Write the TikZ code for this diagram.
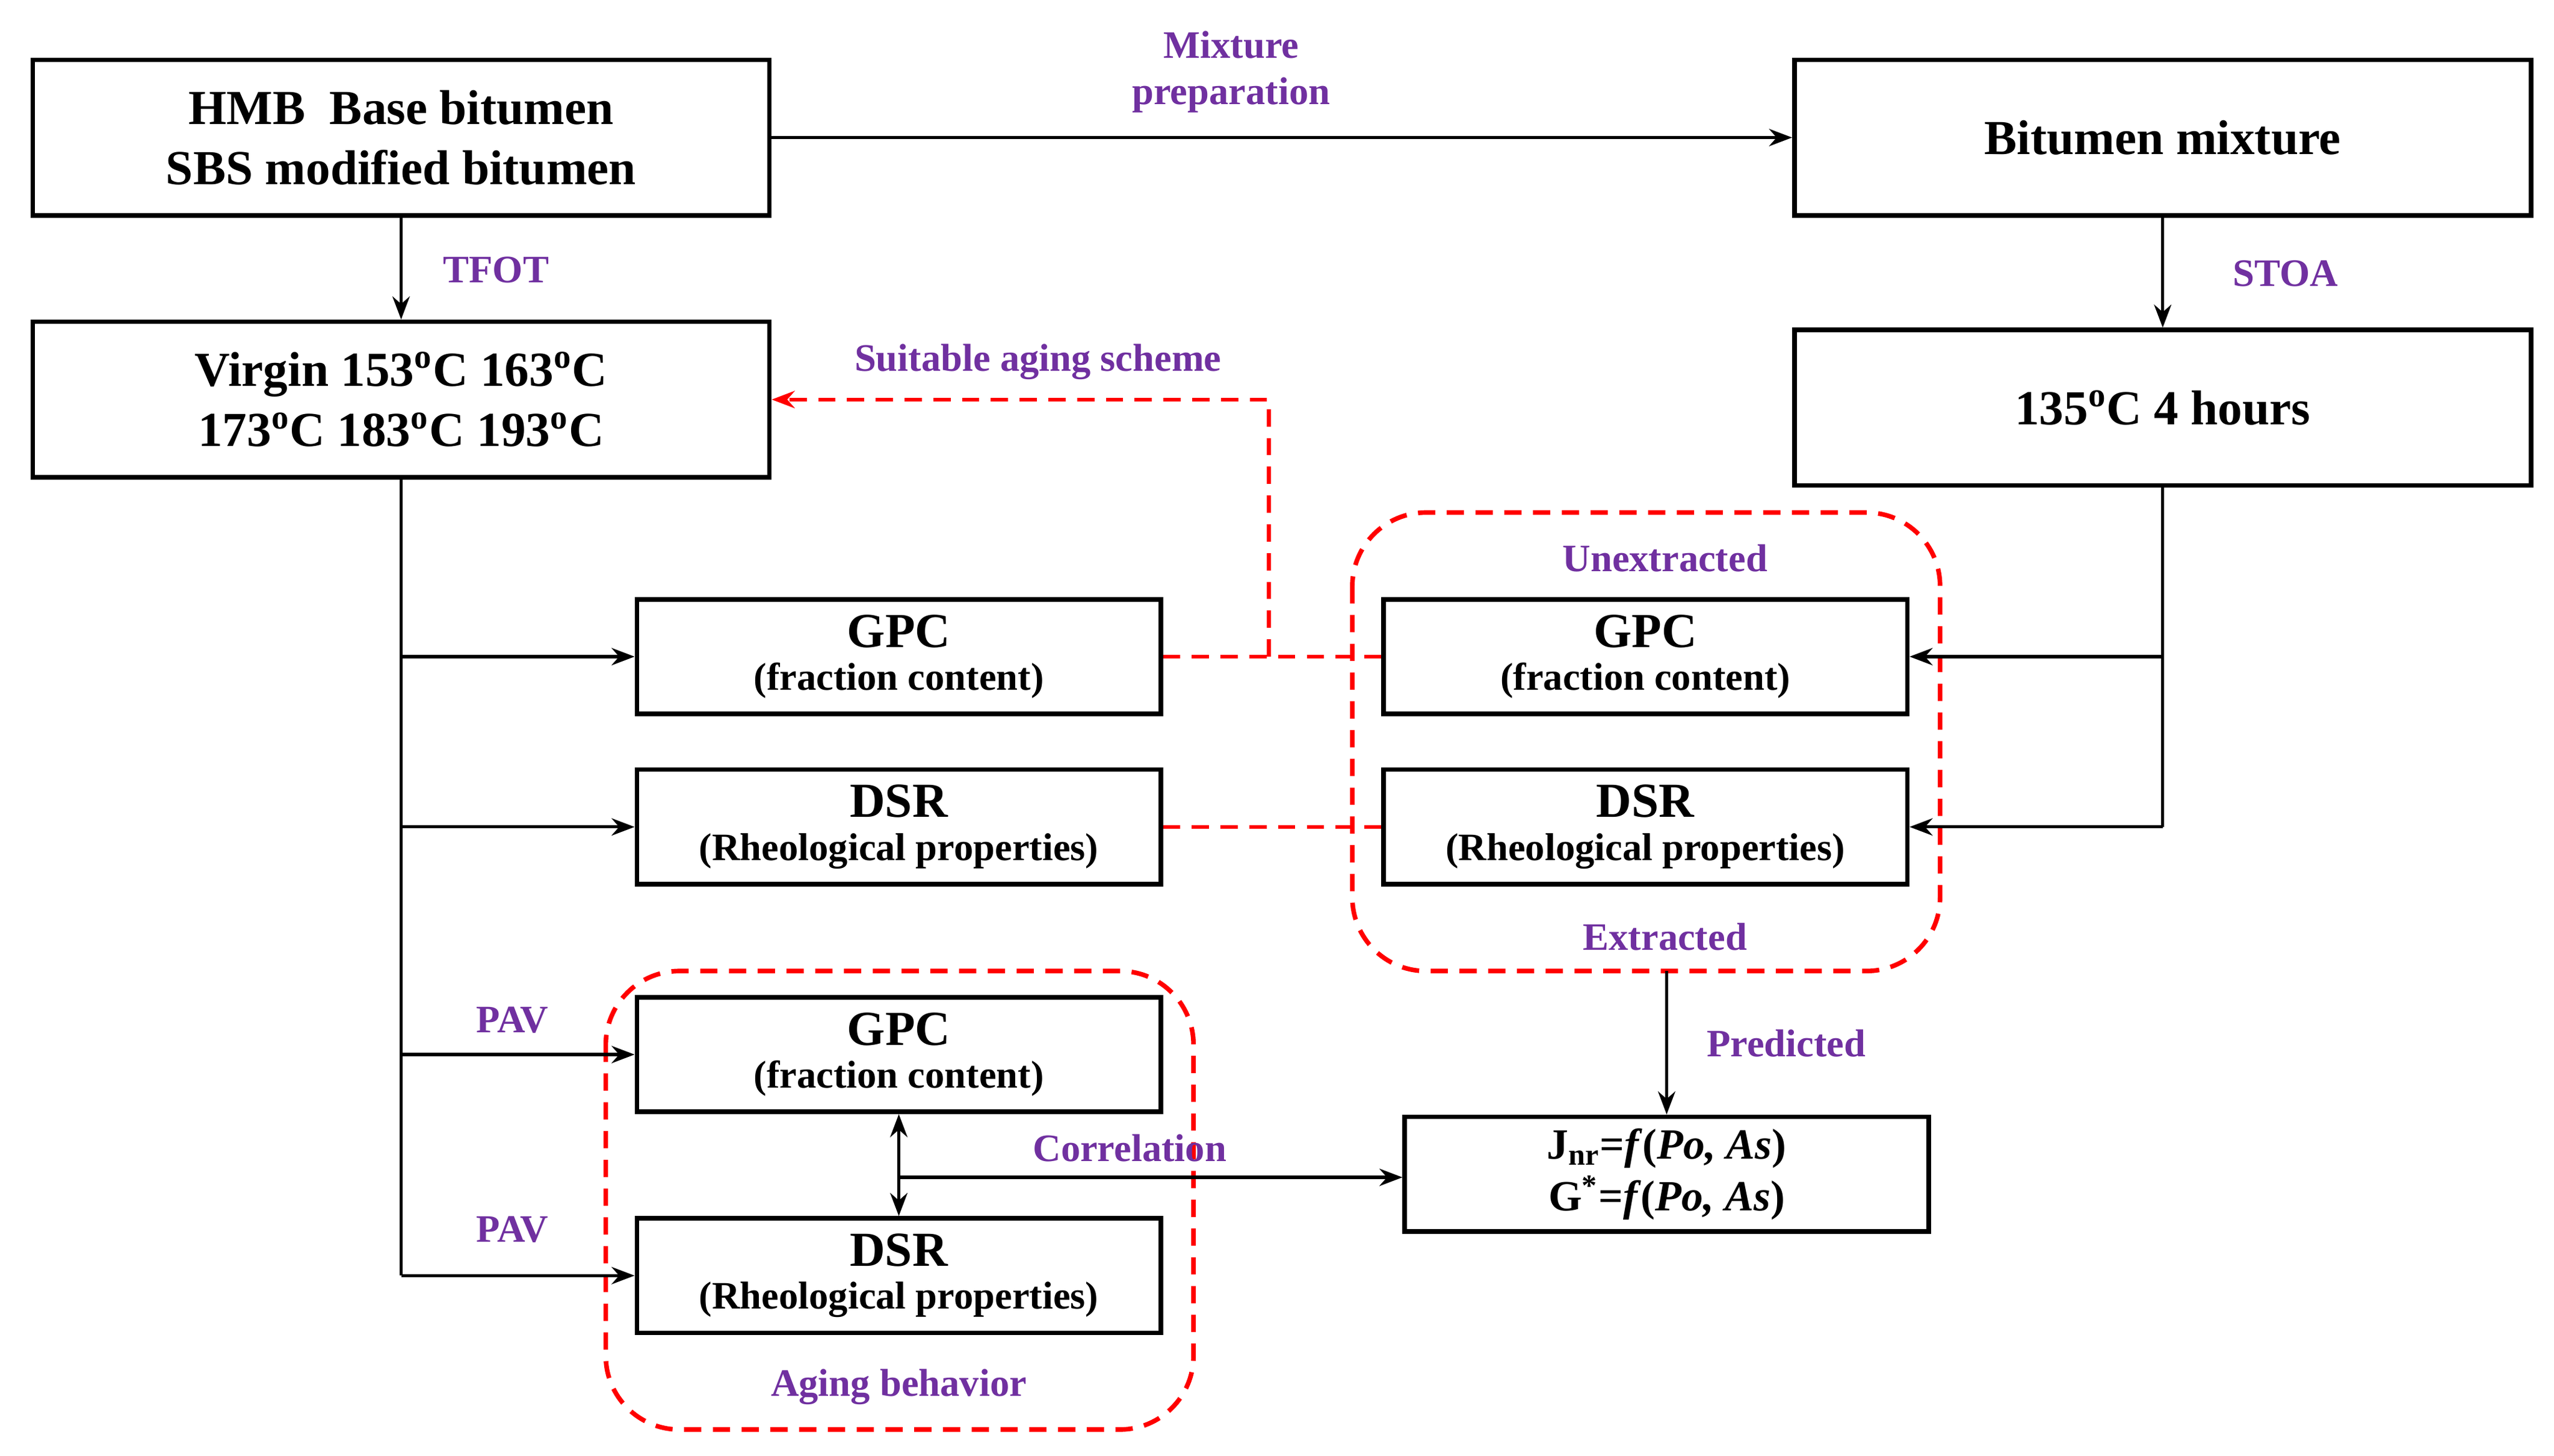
\documentclass[tikz,border=0pt]{standalone}
\usepackage{fontspec}
\setmainfont{Liberation Serif}
\usetikzlibrary{arrows.meta}
\definecolor{labpurple}{RGB}{112,48,160}
\tikzset{
  bigbox/.style={draw=black,line width=1.6pt,minimum width=9.0cm,minimum height=1.9cm,align=center,font=\fontsize{17}{21}\selectfont\bfseries},
  smallbox/.style={draw=black,line width=1.6pt,minimum width=6.4cm,minimum height=1.4cm,align=center,inner sep=1pt},
  lab/.style={text=labpurple,font=\fontsize{13.5}{16}\selectfont\bfseries,align=center},
  frame/.style={draw=red,line width=1.6pt,dash pattern=on 6pt off 4pt,rounded corners=0.9cm},
  conn/.style={line width=1.1pt,-{Stealth[length=8pt,width=6pt]}},
  redconn/.style={draw=red,line width=1.3pt,dash pattern=on 6pt off 4pt}
}
\newcommand{\twoline}[2]{{\fontsize{17}{19}\selectfont\bfseries #1}\\[3pt]{\fontsize{13.5}{16}\selectfont\bfseries #2}}
\newcommand{\degc}{\textsuperscript{o}C}
\begin{document}
\begin{tikzpicture}[x=0.02cm,y=-0.02cm]
  \useasboundingbox (0,0) rectangle (1560,889);
  % frames
  \draw[frame] (826,313) rectangle (1185,593);
  \draw[frame] (370,593) rectangle (729,873);

  \node[bigbox] (hmb) at (245,84) {HMB\ \ Base bitumen\\SBS modified bitumen};
  \node[bigbox] (mixture) at (1321,84) {Bitumen mixture};
  \node[bigbox] (virgin) at (245,244) {Virgin 153\degc\ 163\degc\\173\degc\ 183\degc\ 193\degc};
  \node[bigbox] (stoa) at (1321,249) {135\degc\ 4 hours};
  \node[smallbox] (gpcL) at (549,401) {\twoline{GPC}{(fraction content)}};
  \node[smallbox] (dsrL) at (549,505) {\twoline{DSR}{(Rheological properties)}};
  \node[smallbox] (gpcR) at (1005,401) {\twoline{GPC}{(fraction content)}};
  \node[smallbox] (dsrR) at (1005,505) {\twoline{DSR}{(Rheological properties)}};
  \node[smallbox] (gpcB) at (549,644) {\twoline{GPC}{(fraction content)}};
  \node[smallbox] (dsrB) at (549,779) {\twoline{DSR}{(Rheological properties)}};
  \node[smallbox,font=\fontsize{15}{18}\selectfont\bfseries] (model) at (1018,717) {J\textsubscript{nr}=\textit{f}(\textit{Po, As})\\G\textsuperscript{*}=\textit{f}(\textit{Po, As})};

  \coordinate (extr) at (1018,593);
  \coordinate (vdown) at (245,779);
  \coordinate (sdown) at (1321,505);
  \coordinate (redturn) at (775,401);
  \coordinate (corr) at (549,719);

  \node[lab] (lmix) at (752,44) {Mixture\\preparation};
  \node[lab] (ltfot) at (303,165) {TFOT};
  \node[lab] (lstoa) at (1396,167) {STOA};
  \node[lab] (lsuit) at (634,221) {Suitable aging scheme};
  \node[lab] (lunex) at (1017,341) {Unextracted};
  \node[lab] (lex) at (1017,572) {Extracted};
  \node[lab] (lpred) at (1091,637) {Predicted};
  \node[lab] (lpav1) at (313,623) {PAV};
  \node[lab] (lpav2) at (313,751) {PAV};
  \node[lab] (lcorr) at (690,701) {Correlation};
  \node[lab] (lage) at (549,847) {Aging behavior};

  \draw[conn] (hmb) -- (mixture);
  \draw[conn] (hmb) -- (virgin);
  \draw[conn] (mixture) -- (stoa);
  \draw[line width=1.1pt] (virgin) -- (vdown);
  \draw[conn] (gpcL.west -| vdown) -- (gpcL);
  \draw[conn] (dsrL.west -| vdown) -- (dsrL);
  \draw[conn] (gpcB.west -| vdown) -- (gpcB);
  \draw[conn] (vdown) -- (dsrB);
  \draw[line width=1.1pt] (stoa) -- (sdown);
  \draw[conn] (gpcR.east -| sdown) -- (gpcR);
  \draw[conn] (sdown) -- (dsrR);
  \draw[redconn] (gpcL) -- (gpcR);
  \draw[redconn,-{Stealth[length=8pt,width=6pt]}] (redturn) |- (virgin.east);
  \draw[redconn] (dsrL) -- (dsrR);
  \draw[conn] (extr) -- (model);
  \draw[line width=1.1pt,{Stealth[length=8pt,width=6pt]}-{Stealth[length=8pt,width=6pt]}] (gpcB) -- (dsrB);
  \draw[conn] (corr) -- (model.west |- corr);
\end{tikzpicture}
\end{document}
